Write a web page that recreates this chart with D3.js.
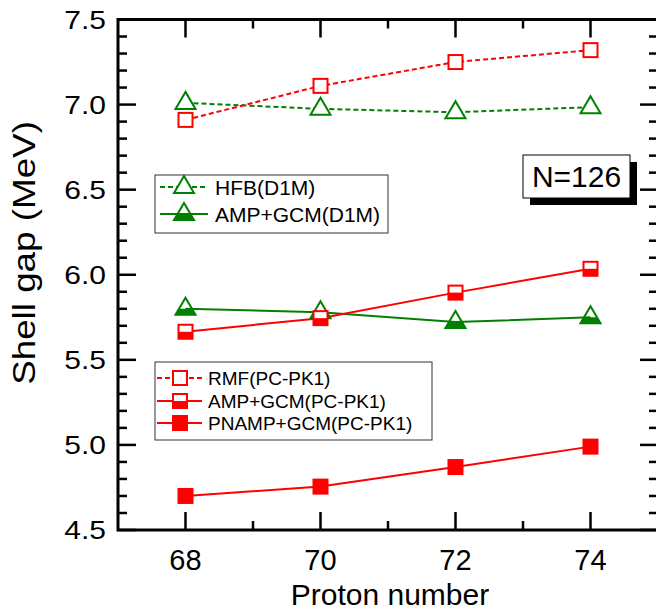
<!DOCTYPE html>
<html><head><meta charset="utf-8">
<script src="https://cdn.jsdelivr.net/npm/d3@7"></script>
<style>body{margin:0;background:#fff} svg{display:block} text{font-family:"Liberation Sans",Arial,sans-serif;fill:#000}</style>
</head><body><svg id="c" width="656" height="611"></svg>
<script>
// ---- data ----
const protons = [68, 70, 72, 74];
const hfbD1M = [7.01, 6.975, 6.955, 6.985];
const ampD1M = [5.80, 5.78, 5.722, 5.75];
const rmfPC = [6.91, 7.11, 7.25, 7.32];
const ampPC = [5.665, 5.745, 5.895, 6.035];
const pnampPC = [4.70, 4.755, 4.87, 4.99];
const xTickValues = [68, 70, 72, 74];
const xMinorValues = [69, 71, 73];
const yTickValues = [4.5, 5.0, 5.5, 6.0, 6.5, 7.0, 7.5];
const legend1 = ["HFB(D1M)", "AMP+GCM(D1M)"];
const legend2 = ["RMF(PC-PK1)", "AMP+GCM(PC-PK1)", "PNAMP+GCM(PC-PK1)"];
const annotation = "N=126";

const GREEN = "#008000", RED = "#ff0000";
const svg = d3.select("#c");
const x = d3.scaleLinear().domain([67, 75]).range([118, 658]);
const y = d3.scaleLinear().domain([4.5, 7.5]).range([530, 19.5]);

// ---- markers ----
function triangle(g, cx, cy, color, half) {
  const top = cy - 11, base = cy + 6, hw = 10;
  if (half) {
    const t = (cy - top) / (base - top);
    const w = hw * t;
    g.append("path").attr("d", `M${cx - w},${cy} L${cx + w},${cy} L${cx + hw},${base} L${cx - hw},${base} Z`).attr("fill", color);
  }
  g.append("path").attr("d", `M${cx},${top} L${cx + hw},${base} L${cx - hw},${base} Z`)
    .attr("fill", half ? "none" : "#fff").attr("stroke", color).attr("stroke-width", 2);
}
function square(g, cx, cy, color, mode) {
  const s = mode === "full" ? 16 : 14;
  if (mode === "full") {
    g.append("rect").attr("x", cx - s / 2).attr("y", cy - s / 2).attr("width", s).attr("height", s).attr("fill", color);
    return;
  }
  g.append("rect").attr("x", cx - s / 2).attr("y", cy - s / 2).attr("width", s).attr("height", s).attr("fill", "#fff");
  if (mode === "half") {
    g.append("rect").attr("x", cx - s / 2).attr("y", cy).attr("width", s).attr("height", s / 2).attr("fill", color);
  }
  g.append("rect").attr("x", cx - s / 2).attr("y", cy - s / 2).attr("width", s).attr("height", s)
    .attr("fill", "none").attr("stroke", color).attr("stroke-width", 2);
}

// ---- series ----
const series = [
  { vals: hfbD1M, color: GREEN, dash: "5,3", mk: "tri", mode: false },
  { vals: rmfPC, color: RED, dash: "5,3", mk: "sq", mode: "open" },
  { vals: ampD1M, color: GREEN, dash: null, mk: "tri", mode: true },
  { vals: ampPC, color: RED, dash: null, mk: "sq", mode: "half" },
  { vals: pnampPC, color: RED, dash: null, mk: "sq", mode: "full" }
];
const line = d3.line().x(d => x(d[0])).y(d => y(d[1]));
series.forEach(s => {
  const pts = protons.map((p, i) => [p, s.vals[i]]);
  svg.append("path").attr("d", line(pts)).attr("fill", "none").attr("stroke", s.color)
    .attr("stroke-width", 2).attr("stroke-dasharray", s.dash);
});
series.forEach(s => {
  const g = svg.append("g");
  protons.forEach((p, i) => {
    if (s.mk === "tri") triangle(g, x(p), y(s.vals[i]), s.color, s.mode);
    else square(g, x(p), y(s.vals[i]), s.color, s.mode);
  });
});

// ---- frame & ticks ----
const frame = svg.append("g").attr("stroke", "#000").attr("fill", "none");
const yMinor = d3.range(45, 76).map(v => v / 10);
yMinor.forEach(v => {
  const major = Math.abs(v * 2 - Math.round(v * 2)) < 1e-6;
  const len = major ? 18 : 9;
  frame.append("line").attr("x1", x(67)).attr("x2", x(67) + len).attr("y1", y(v)).attr("y2", y(v)).attr("stroke-width", 2.5);
  frame.append("line").attr("x1", x(75)).attr("x2", x(75) - len).attr("y1", y(v)).attr("y2", y(v)).attr("stroke-width", 2.5);
});
xTickValues.concat(xMinorValues).forEach(v => {
  const len = xTickValues.includes(v) ? 18 : 9;
  frame.append("line").attr("x1", x(v)).attr("x2", x(v)).attr("y1", y(4.5)).attr("y2", y(4.5) - len).attr("stroke-width", 2.5);
  frame.append("line").attr("x1", x(v)).attr("x2", x(v)).attr("y1", y(7.5)).attr("y2", y(7.5) + len).attr("stroke-width", 2.5);
});
frame.append("rect").attr("x", x(67)).attr("y", y(7.5)).attr("width", x(75) - x(67)).attr("height", y(4.5) - y(7.5)).attr("stroke-width", 3);

// tick labels
yTickValues.forEach(v => {
  svg.append("text").attr("transform", `translate(106,${y(v) + 9}) scale(1.2,1)`)
    .attr("text-anchor", "end").attr("font-size", 25).text(v.toFixed(1));
});
xTickValues.forEach(v => {
  svg.append("text").attr("x", x(v)).attr("y", 570).attr("text-anchor", "middle").attr("font-size", 29).text(v);
});
svg.append("text").attr("x", 390).attr("y", 605).attr("text-anchor", "middle").attr("font-size", 30).text("Proton number");
svg.append("text").attr("transform", `translate(35,253) rotate(-90) scale(1.15,1)`)
  .attr("text-anchor", "middle").attr("font-size", 32).text("Shell gap (MeV)");

// ---- legends ----
function legendBox(x0, y0, w, h) {
  svg.append("rect").attr("x", x0).attr("y", y0).attr("width", w).attr("height", h)
    .attr("fill", "#fff").attr("stroke", "#333").attr("stroke-width", 1);
}
legendBox(155, 175, 233, 58);
[[series[0], 187], [series[2], 214]].forEach(([s, ly], i) => {
  svg.append("line").attr("x1", 160).attr("x2", 208).attr("y1", ly).attr("y2", ly)
    .attr("stroke", s.color).attr("stroke-width", 2).attr("stroke-dasharray", s.dash);
  triangle(svg, 184, ly, s.color, s.mode);
  svg.append("text").attr("x", 215).attr("y", ly + 8).attr("font-size", 21).text(legend1[i]);
});
legendBox(155, 362, 277, 78);
[[series[1], 378], [series[3], 401], [series[4], 423]].forEach(([s, ly], i) => {
  svg.append("line").attr("x1", 157).attr("x2", 202).attr("y1", ly).attr("y2", ly)
    .attr("stroke", s.color).attr("stroke-width", 2).attr("stroke-dasharray", s.dash);
  square(svg, 180, ly, s.color, s.mode);
  svg.append("text").attr("x", 208).attr("y", ly + 7).attr("font-size", 19).text(legend2[i]);
});

// ---- annotation ----
svg.append("rect").attr("x", 530).attr("y", 162).attr("width", 107).attr("height", 43).attr("fill", "#000");
svg.append("rect").attr("x", 523).attr("y", 155).attr("width", 107).attr("height", 43).attr("fill", "#fff").attr("stroke", "#000").attr("stroke-width", 1);
svg.append("text").attr("x", 576.5).attr("y", 187).attr("text-anchor", "middle").attr("font-size", 30).text(annotation);
</script></body></html>
